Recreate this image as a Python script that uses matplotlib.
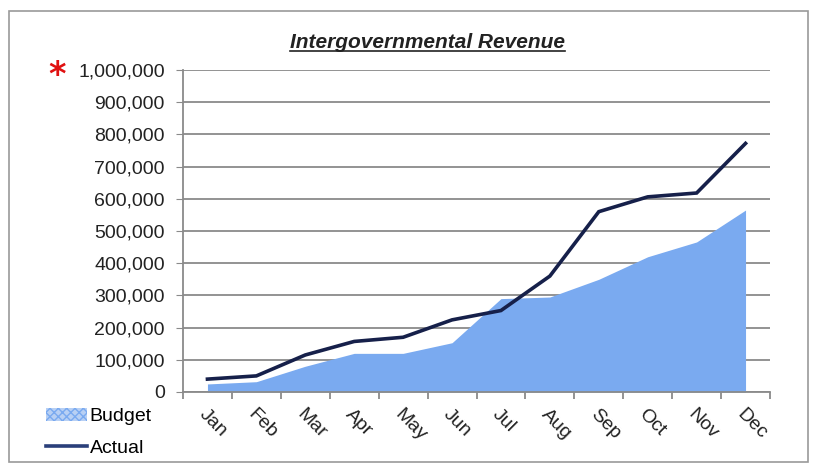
import matplotlib
matplotlib.use("Agg")
import matplotlib.pyplot as plt
from matplotlib.patches import Rectangle, Patch
from matplotlib.lines import Line2D
from matplotlib.ticker import FuncFormatter

months = ["Jan", "Feb", "Mar", "Apr", "May", "Jun", "Jul", "Aug", "Sep", "Oct", "Nov", "Dec"]
budget = [25000, 32000, 80000, 120000, 120000, 153000, 290000, 295000, 350000, 420000, 466000, 565000]
actual = [40000, 50000, 115000, 157000, 170000, 224000, 253000, 360000, 560000, 606000, 618000, 772000]
yticks = list(range(0, 1000001, 100000))

FONT = ["Liberation Sans", "DejaVu Sans"]
plt.rcParams["font.family"] = FONT

fig = plt.figure(figsize=(8.19, 4.66), dpi=100)
fig.patch.set_facecolor("white")
ax = fig.add_axes([183/819, 1-392/466, (770-183)/819, (392-70)/466])

x = list(range(len(months)))
ax.fill_between(x, budget, 0, color="#7aaaf0", linewidth=0, zorder=2)
ax.plot(x, actual, color="#16204a", linewidth=2.6, zorder=3, solid_joinstyle="miter")

ax.set_xlim(-0.5, len(months) - 0.5)
ax.set_ylim(0, 1000000)
ax.set_yticks(yticks)
ax.yaxis.set_major_formatter(FuncFormatter(lambda v, p: f"{int(v):,}"))
ax.grid(axis="y", color="#8a8a8a", linewidth=1.3, zorder=1)
ax.set_axisbelow(True)

for s in ["top", "right"]:
    ax.spines[s].set_visible(False)
ax.spines["left"].set_color("#8a8a8a")
ax.spines["bottom"].set_color("#8a8a8a")
ax.spines["left"].set_linewidth(1.3)
ax.spines["bottom"].set_linewidth(1.3)
ax.tick_params(axis="y", length=5, color="#8a8a8a", labelsize=14, pad=8, labelcolor="#222222")

ax.set_xticks(x)
ax.set_xticklabels(months, rotation=-45, ha="left", va="top", rotation_mode="anchor",
                   fontsize=14, color="#222222")
ax.tick_params(axis="x", length=0, pad=10)
ax.set_xticks([i + 0.5 for i in range(-1, len(months))], minor=True)
ax.tick_params(axis="x", which="minor", length=5, color="#8a8a8a", width=1.3)

# title with underline
t = fig.text(427/819, 1-42/466, "Intergovernmental Revenue", ha="center", va="center",
             fontsize=15, fontweight="bold", fontstyle="italic", color="#222222")
fig.canvas.draw()
bb = t.get_window_extent()
fig.add_artist(Line2D([bb.x0/819, bb.x1/819], [(bb.y0 + 1)/466, (bb.y0 + 1)/466],
                      color="#222222", linewidth=1.2, transform=fig.transFigure))

# red asterisk
fig.text(57/819, 1-76/466, "*", color="#e01010", fontsize=24, fontweight="bold",
         ha="center", va="center", family=["DejaVu Sans"])

# legend
handles = [Patch(facecolor="#b8d0f4", edgecolor="#7aaaf0", hatch="xxxx", linewidth=0),
           Line2D([0], [0], color="#2a3f7a", linewidth=2.6)]
fig.legend(handles, ["Budget", "Actual"], loc="upper left",
           bbox_to_anchor=(36/819, 1-398/466), frameon=False, fontsize=14,
           handlelength=2.1, handletextpad=0.15, labelspacing=0.7, borderpad=0)

# outer border
fig.add_artist(Rectangle((9/819, 1-462/466), (808-9)/819, (462-11)/466,
                         transform=fig.transFigure, fill=False, edgecolor="#9a9a9a", linewidth=1.2))

fig.savefig("out.png", dpi=100)
